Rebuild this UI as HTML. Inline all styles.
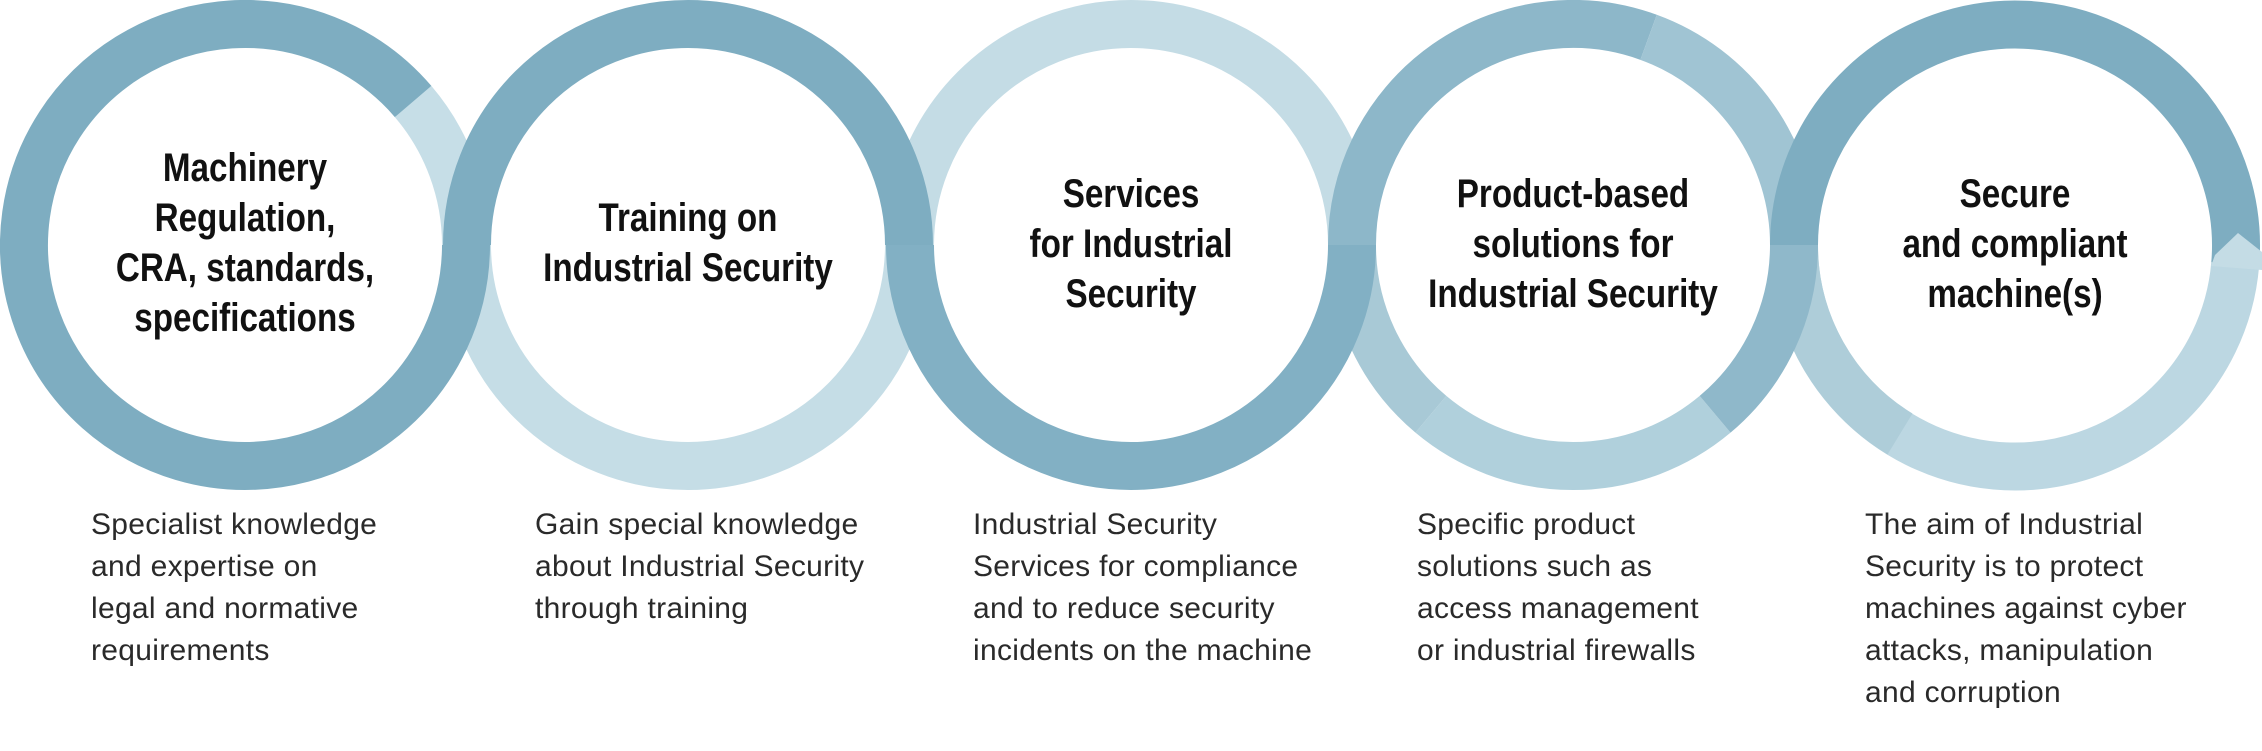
<!DOCTYPE html>
<html><head><meta charset="utf-8"><style>
html,body{margin:0;padding:0;background:#fff;}
#w{position:relative;width:2262px;height:751px;overflow:hidden;background:#fff;}
svg{position:absolute;left:0;top:0;}
.t{position:absolute;width:500px;text-align:center;font-family:"Liberation Sans Narrow","Liberation Sans",sans-serif;font-weight:bold;font-size:40px;line-height:50px;color:#111;transform:scaleX(0.83);transform-origin:center top;}
.d{position:absolute;width:460px;font-family:"Liberation Sans",sans-serif;font-size:30px;line-height:42px;color:#2a2a2a;top:504px;letter-spacing:0.3px;}
</style></head><body><div id="w">
<svg width="2262" height="751" viewBox="0 0 2262 751" fill="none" stroke-width="48">
<path d="M413.1 101.5 A221 221 0 0 1 466 245" stroke="#c6dee7"/>
<polygon points="399,87 432,87 413,110 396,117" fill="#c6dee7"/>
<path d="M909 245 A221 221 0 0 1 467 245" stroke="#c5dde6"/>
<path d="M466 245 A221 221 0 1 1 413.1 101.5" stroke="#7eadc1"/>
<path d="M910 245 A221 221 0 0 1 1352 245" stroke="#c4dce5"/>
<path d="M467 245 A221 221 0 0 1 909 245" stroke="#7eadc1"/>
<path d="M1715.1 414.3 A221 221 0 0 1 1430.9 414.3" stroke="#b0d0dc"/>
<path d="M1430.9 414.3 A221 221 0 0 1 1352 245" stroke="#a8c9d6"/>
<path d="M1352 245 A221 221 0 0 1 910 245" stroke="#82b0c4"/>
<path d="M2235.2 264.3 A221 221 0 0 1 1794 245" stroke="#bcd7e2"/>
<path d="M1900 434 A221 221 0 0 1 1794 245" stroke="#aecdd9"/>
<path d="M1352 245 A221 221 0 0 1 1648.6 37.3" stroke="#8db7c9"/>
<path d="M1648.6 37.3 A221 221 0 0 1 1794 245" stroke="#a0c4d3"/>
<path d="M1794 245 A221 221 0 0 1 1715.1 414.3" stroke="#8fb8ca"/>
<path d="M1794 245 A221 221 0 1 1 2235.2 264.3" stroke="#7eadc1"/>
<polygon points="2211,266 2215,255 2238,233 2262,252 2262,270" fill="#c4dce5"/>
</svg>
<div class="t" style="left:-5px;top:143px">Machinery<br>Regulation,<br>CRA, standards,<br>specifications</div>
<div class="t" style="left:438px;top:193px">Training on<br>Industrial Security</div>
<div class="t" style="left:881px;top:169px">Services<br>for Industrial<br>Security</div>
<div class="t" style="left:1323px;top:169px">Product-based<br>solutions for<br>Industrial Security</div>
<div class="t" style="left:1765px;top:169px">Secure<br>and compliant<br>machine(s)</div>
<div class="d" style="left:91px">Specialist knowledge<br>and expertise on<br>legal and normative<br>requirements</div>
<div class="d" style="left:535px">Gain special knowledge<br>about Industrial Security<br>through training</div>
<div class="d" style="left:973px">Industrial Security<br>Services for compliance<br>and to reduce security<br>incidents on the machine</div>
<div class="d" style="left:1417px">Specific product<br>solutions such as<br>access management<br>or industrial firewalls</div>
<div class="d" style="left:1865px">The aim of Industrial<br>Security is to protect<br>machines against cyber<br>attacks, manipulation<br>and corruption</div>
</div></body></html>
